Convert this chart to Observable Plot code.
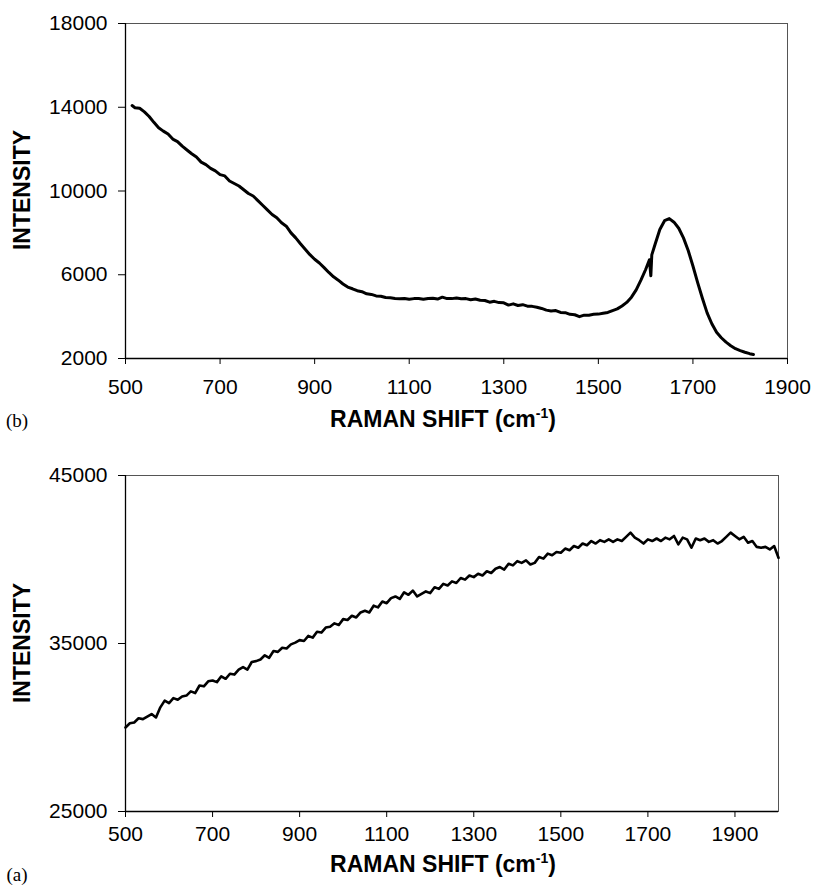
<!DOCTYPE html>
<html><head><meta charset="utf-8">
<script src="https://cdn.jsdelivr.net/npm/d3@7"></script>
<script src="https://cdn.jsdelivr.net/npm/@observablehq/plot@0.6"></script>
<style>
body{margin:0;background:#fff;}
#wrap{position:relative;width:816px;height:888px;overflow:hidden;}
#wrap svg{position:absolute;left:0;}
</style></head><body><div id="wrap"></div>
<script>
// Panel (b)
const shiftB = [514,520,530,540,550,560,570,580,590,600,610,620,630,640,650,660,670,680,690,700,710,720,730,740,750,760,770,780,790,800,810,820,830,840,850,860,870,880,890,900,910,920,930,940,950,960,970,980,990,1000,1010,1020,1030,1040,1050,1060,1070,1080,1090,1100,1110,1120,1130,1140,1150,1160,1170,1180,1190,1200,1210,1220,1230,1240,1250,1260,1270,1280,1290,1300,1310,1320,1330,1340,1350,1360,1370,1380,1390,1400,1410,1420,1430,1440,1450,1460,1470,1480,1490,1500,1510,1520,1530,1540,1550,1560,1570,1580,1590,1600,1608,1611,1613,1620,1630,1640,1650,1660,1670,1680,1690,1700,1710,1720,1730,1740,1750,1760,1770,1780,1790,1800,1810,1820,1828];
const intensityB = [14080,13980,13950,13780,13560,13280,13020,12860,12720,12480,12360,12140,11960,11780,11620,11380,11260,11080,10960,10780,10720,10480,10360,10240,10060,9880,9760,9540,9320,9100,8880,8720,8480,8320,8000,7760,7480,7220,6960,6740,6560,6340,6110,5900,5740,5560,5410,5330,5240,5190,5090,5060,4990,4970,4910,4900,4870,4850,4870,4830,4860,4870,4830,4870,4880,4840,4930,4860,4860,4890,4850,4860,4810,4840,4780,4770,4690,4730,4670,4660,4550,4610,4530,4570,4500,4490,4450,4390,4310,4270,4290,4200,4190,4110,4090,4000,4070,4070,4110,4120,4160,4200,4290,4370,4510,4680,4930,5280,5740,6250,6720,5950,6950,7460,8160,8580,8680,8510,8220,7760,7160,6420,5620,4880,4180,3660,3250,2990,2780,2610,2470,2380,2300,2230,2190];
const xTicksB = [500,700,900,1100,1300,1500,1700,1900];
const yTicksB = [2000,6000,10000,14000,18000];

// Panel (a)
const shiftA = [500,510,520,530,540,550,560,570,580,590,600,610,620,630,640,650,660,670,680,690,700,710,720,730,740,750,760,770,780,790,800,810,820,830,840,850,860,870,880,890,900,910,920,930,940,950,960,970,980,990,1000,1010,1020,1030,1040,1050,1060,1070,1080,1090,1100,1110,1120,1130,1140,1150,1160,1170,1180,1190,1200,1210,1220,1230,1240,1250,1260,1270,1280,1290,1300,1310,1320,1330,1340,1350,1360,1370,1380,1390,1400,1410,1420,1430,1440,1450,1460,1470,1480,1490,1500,1510,1520,1530,1540,1550,1560,1570,1580,1590,1600,1610,1620,1630,1640,1650,1660,1670,1680,1690,1700,1710,1720,1730,1740,1750,1760,1770,1780,1790,1800,1810,1820,1830,1840,1850,1860,1870,1880,1890,1900,1910,1920,1930,1940,1950,1960,1970,1980,1990,2000];
const intensityA = [30000,30250,30300,30550,30500,30650,30800,30600,31200,31600,31450,31750,31650,31850,31900,32150,32050,32500,32450,32750,32800,32700,33050,32900,33200,33150,33450,33600,33450,33900,33950,34050,34300,34150,34550,34500,34750,34700,34950,35050,35200,35150,35450,35350,35700,35650,35950,36000,36200,36100,36450,36400,36650,36550,36850,36950,36850,37250,37150,37500,37400,37700,37800,37650,38050,37900,38150,37800,37950,38100,38000,38350,38250,38550,38450,38700,38600,38900,38800,39050,38950,39150,39050,39300,39200,39450,39550,39400,39750,39650,39900,39800,39950,39700,39800,40150,40050,40350,40250,40450,40400,40650,40550,40800,40700,40950,40850,41100,40950,41150,41050,41200,41050,41200,41100,41350,41600,41300,41150,40950,41200,41100,41250,41100,41300,41200,41400,40900,41300,41200,40700,41250,41150,41250,41050,41150,40950,41100,41350,41600,41400,41200,41350,41000,41100,40750,40700,40750,40600,40800,40100];
const xTicksA = [500,700,900,1100,1300,1500,1700,1900];
const yTicksA = [25000,35000,45000];

const xLabel = "RAMAN SHIFT (cm";
const xLabelSup = "-1";
const yLabel = "INTENSITY";

function panel(o) {
  const data = o.xs.map((v, i) => ({x: v, y: o.ys[i]}));
  const chart = Plot.plot({
    width: 816, height: o.height,
    marginTop: o.marginTop, marginBottom: o.marginBottom,
    marginLeft: 125, marginRight: o.marginRight,
    style: {fontFamily: "'Liberation Sans', Arial, sans-serif", fontSize: "21px", color: "black", background: "white", overflow: "visible"},
    x: {domain: o.xDomain},
    y: {domain: o.yDomain},
    marks: [
      Plot.frame({stroke: "#555", strokeWidth: 1}),
      Plot.ruleY([o.yDomain[0]], {stroke: "black", strokeWidth: 1.3}),
      Plot.ruleX([o.xDomain[0]], {stroke: "black", strokeWidth: 1.3}),
      Plot.axisX({ticks: o.xTicks, tickSize: 6, tickPadding: o.xPad, tickFormat: d => String(d), label: null, stroke: "black"}),
      Plot.axisY({ticks: o.yTicks, tickSize: 7, tickPadding: 11, tickFormat: d => String(d), label: null, stroke: "black"}),
      Plot.line(data, {x: "x", y: "y", stroke: "black", strokeWidth: o.sw, strokeLinejoin: "round"})
    ]
  });
  chart.style.top = o.top + "px";
  const svg = d3.select(chart);
  svg.append("text")
    .attr("transform", `translate(30,${o.yLabelY}) rotate(-90)`)
    .attr("text-anchor", "middle")
    .attr("font-family", "'Liberation Sans', Arial, sans-serif")
    .attr("font-weight", "bold").attr("font-size", 23)
    .attr("fill", "black")
    .text(yLabel);
  const t = svg.append("text")
    .attr("x", 443).attr("y", o.xLabelY)
    .attr("text-anchor", "middle")
    .attr("font-family", "'Liberation Sans', Arial, sans-serif")
    .attr("font-weight", "bold").attr("font-size", 23)
    .attr("fill", "black");
  t.append("tspan").text(xLabel);
  t.append("tspan").attr("font-size", 14).attr("dy", -9).text(xLabelSup);
  t.append("tspan").attr("dy", 9).text(")");
  svg.append("text")
    .attr("x", 17).attr("y", o.letterY)
    .attr("font-family", "'Liberation Serif', 'Times New Roman', serif")
    .attr("font-size", 19).attr("fill", "black")
    .text(o.letter);
  document.getElementById("wrap").appendChild(chart);
}

panel({xs: shiftB, ys: intensityB, xDomain: [500, 1900], yDomain: [2000, 18000],
  xTicks: xTicksB, yTicks: yTicksB, top: 0, height: 440, marginTop: 23, marginBottom: 82,
  marginRight: 29, xPad: 15, yLabelY: 190, xLabelY: 427, letter: "(b)", letterY: 427, sw: 3});

panel({xs: shiftA, ys: intensityA, xDomain: [500, 2000], yDomain: [25000, 45000],
  xTicks: xTicksA, yTicks: yTicksA, top: 440, height: 448, marginTop: 35, marginBottom: 77,
  marginRight: 38, xPad: 9, yLabelY: 203, xLabelY: 432, letter: "(a)", letterY: 441, sw: 2.6});
</script></body></html>
